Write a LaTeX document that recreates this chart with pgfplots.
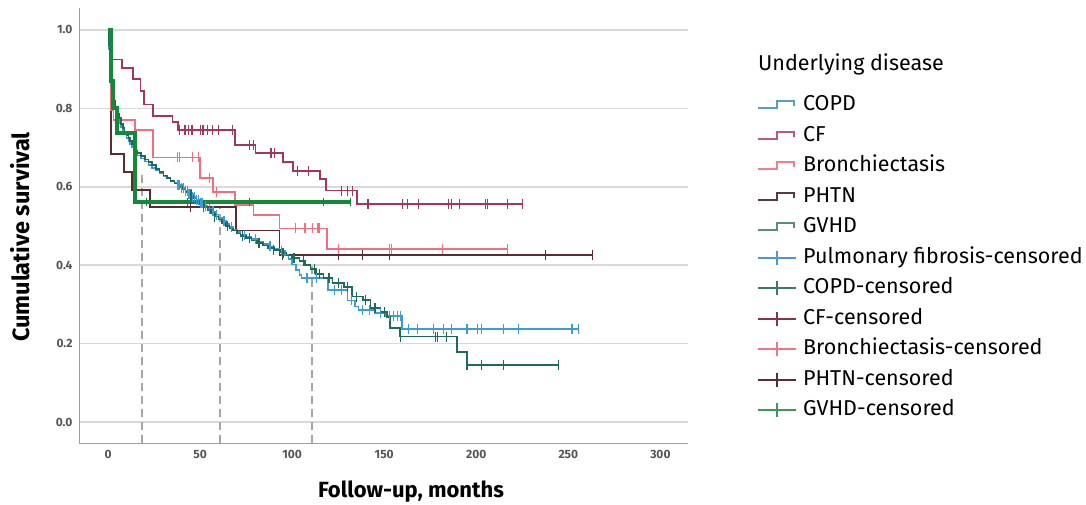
\documentclass[border=0pt]{standalone}
\usepackage{fontspec}
\setmainfont{Fira Sans}
\usepackage{pgfplots}
\pgfplotsset{compat=1.18}
\definecolor{cblue}{HTML}{3D9BD6}
\definecolor{cteal}{HTML}{1D6B5C}
\definecolor{ccf}{HTML}{A3365F}
\definecolor{cpink}{HTML}{F26D7D}
\definecolor{cbrown}{HTML}{5C2A31}
\definecolor{cgreen}{HTML}{128A3A}
\definecolor{lblue}{HTML}{5B9BC8}
\definecolor{lcf}{HTML}{B85A7A}
\definecolor{lpink}{HTML}{F08090}
\definecolor{lbrown}{HTML}{5A3A3C}
\definecolor{lgvhd}{HTML}{5A9070}
\definecolor{lpf}{HTML}{4A9AD0}
\definecolor{lcopd}{HTML}{3A7A6A}
\definecolor{lcfc}{HTML}{8A3050}
\definecolor{lbrc}{HTML}{F07585}
\definecolor{lphc}{HTML}{5A2A35}
\definecolor{lgvc}{HTML}{3A9A5A}
\definecolor{ticktext}{HTML}{555555}
\begin{document}
\begin{tikzpicture}[x=1pt,y=1pt]
\useasboundingbox (0,0) rectangle (1086,504);
\begin{axis}[
  at={(79pt,61pt)}, anchor=south west,
  scale only axis, width=609pt, height=435pt,
  xmin=-15.8, xmax=315, ymin=-0.0536, ymax=1.056,
  axis x line*=bottom, axis y line*=left,
  axis line style={draw=gray!75, line width=1pt, -},
  major tick length=0pt,
  xtick={0,50,100,150,200,250,300},
  ytick={0,0.2,0.4,0.6,0.8,1.0},
  yticklabel style={/pgf/number format/fixed, /pgf/number format/fixed zerofill, /pgf/number format/precision=1, xshift=-3pt},
  /pgf/number format/assume math mode=true,
  ticklabel style={font=\fontsize{12}{14}\selectfont\bfseries, text=ticktext},
  xticklabel style={yshift=-4pt},
  ymajorgrids, grid style={draw=gray!30, line width=1.5pt},
  legend style={at={(rel axis cs:1.1133,0.799)}, anchor=north west, draw=none, fill=none,
    inner sep=0pt, row sep=11.5pt,
    nodes={inner sep=0pt, text height=15pt, text depth=4pt, anchor=west},
    font=\fontsize{21.5}{25}\selectfont},
  legend cell align=left,
]
% dashed reference lines
\addplot[forget plot, draw=gray!70, line width=1.6pt, dash pattern=on 8pt off 5pt] coordinates {(18.5,-0.0536)(18.5,0.638)};
\addplot[forget plot, draw=gray!70, line width=1.6pt, dash pattern=on 8pt off 5pt] coordinates {(60.9,-0.0536)(60.9,0.546)};
\addplot[forget plot, draw=gray!70, line width=1.6pt, dash pattern=on 8pt off 5pt] coordinates {(110.6,-0.0536)(110.6,0.40)};

% PHTN
\addplot[forget plot, const plot, draw=cbrown, line width=1.6pt] coordinates {
(0,1)(1.6,0.683)(8.7,0.637)(13,0.592)(22.8,0.548)(69.5,0.488)(93,0.426)(263,0.426)};
\addplot[forget plot, only marks, mark=|, mark size=5pt, draw=cbrown, mark options={line width=1.2pt}] coordinates {
(44.6,0.548)(94.6,0.426)(125,0.426)(138,0.426)(153,0.426)(237.5,0.426)(263,0.426)};

% Bronchiectasis
\addplot[forget plot, const plot, draw=cpink, line width=1.6pt] coordinates {
(0,1)(1.6,0.796)(2.9,0.77)(14.7,0.745)(24.5,0.675)(50,0.622)(57,0.587)(69,0.553)(79,0.528)(93,0.494)(119,0.441)(217,0.441)};
\addplot[forget plot, only marks, mark=|, mark size=5pt, draw=cpink, mark options={line width=1.2pt}] coordinates {
(37.5,0.675)(39,0.675)(46,0.675)(49,0.675)(55,0.622)(58.7,0.587)(101.6,0.494)(107,0.494)(111,0.494)(114,0.494)(115,0.494)
(125,0.441)(153,0.441)(154,0.441)(181.5,0.441)(217,0.441)};

% CF
\addplot[forget plot, const plot, draw=ccf, line width=1.6pt] coordinates {
(0,1)(1.5,0.925)(7.5,0.903)(13.5,0.875)(17.5,0.845)(19.5,0.81)(24.5,0.78)(35,0.765)(38,0.745)(69,0.706)(80,0.686)(95,0.663)(100.5,0.64)(115,0.62)(118.5,0.59)(135.3,0.556)(225,0.556)};
\addplot[forget plot, only marks, mark=|, mark size=5pt, draw=ccf, mark options={line width=1.2pt}] coordinates {
(39,0.745)(41.8,0.745)(43.5,0.745)(45.6,0.745)(50,0.745)(51.6,0.745)(53.8,0.745)(56.5,0.745)(59.8,0.745)(67.4,0.745)
(77,0.706)(78.8,0.706)(88.5,0.686)(90.5,0.686)(103,0.64)(108.7,0.64)(127,0.59)(130,0.59)(132.6,0.59)
(140.8,0.556)(141.6,0.556)(160,0.556)(162.5,0.556)(168.5,0.556)(185,0.556)(186.4,0.556)(191,0.556)(205,0.556)(206,0.556)(216.8,0.556)(225,0.556)};

% Pulmonary fibrosis (blue)
\addplot[forget plot, const plot, draw=cblue, line width=1.6pt] coordinates {
(0,1)(0.5,0.95)(1,0.9)(1.5,0.86)(2,0.83)(3,0.81)(4,0.79)(5,0.775)(6,0.763)(7,0.752)(8,0.742)(9,0.733)(10,0.725)(11,0.716)(12,0.708)(13,0.7)(14,0.692)(15,0.686)(16,0.68)(18,0.672)(20,0.664)(22,0.656)(24,0.648)(26,0.641)(28,0.634)(30,0.628)(32,0.622)(34,0.616)(36,0.61)(38,0.604)(40,0.597)(42,0.59)(44,0.582)(46,0.574)(48,0.566)(50,0.558)(52,0.551)(54,0.544)(56,0.537)(58,0.529)(60,0.521)(62,0.513)(64,0.505)(66,0.497)(68,0.49)(70,0.484)(72,0.478)(75,0.472)(78,0.466)(81,0.46)(84,0.454)(87,0.448)(90,0.442)(93,0.436)(96,0.426)(98,0.415)(100,0.402)(102,0.388)(104,0.375)(105,0.367)(119.5,0.337)(130,0.31)(134,0.295)(136,0.286)(145,0.278)(151,0.27)(159.6,0.237)(255.4,0.237)};
\addplot[forget plot, only marks, mark=|, mark size=5pt, draw=cblue, mark options={line width=1.2pt}] coordinates {
(38,0.604)(39,0.604)(40,0.597)(41,0.597)(42,0.59)(43,0.59)(44,0.582)(45,0.582)(46,0.574)(47,0.574)(48,0.566)(49,0.566)(50,0.558)(51,0.558)(53,0.551)(55,0.544)(57,0.537)(59,0.529)(63,0.513)(67,0.497)(74,0.478)(80,0.466)(88,0.448)(94,0.436)(108,0.367)(113,0.367)(123,0.337)(127,0.337)(132,0.31)(138,0.286)(142,0.286)(148,0.278)(153,0.27)(155,0.27)(157,0.27)(159,0.27)
(163,0.237)(168,0.237)(176.6,0.237)(182,0.237)(186.4,0.237)(195,0.237)(200.5,0.237)(203,0.237)(214.7,0.237)(222.8,0.237)(252,0.237)(255.4,0.237)};

% COPD (teal)
\addplot[forget plot, const plot, draw=cteal, line width=1.6pt] coordinates {
(0,1)(0.5,0.96)(1,0.92)(1.5,0.88)(2,0.85)(3,0.82)(4,0.80)(5,0.785)(6,0.775)(7,0.76)(8,0.75)(9,0.74)(10,0.732)(11,0.724)(12,0.716)(13,0.708)(14,0.7)(15,0.692)(16,0.686)(18,0.678)(20,0.67)(22,0.663)(24,0.655)(26,0.646)(28,0.637)(30,0.629)(32,0.622)(34,0.615)(36,0.608)(38,0.6)(40,0.593)(42,0.586)(44,0.578)(46,0.57)(48,0.562)(50,0.555)(52,0.548)(54,0.54)(56,0.532)(58,0.524)(60,0.516)(62,0.508)(64,0.5)(66,0.494)(68,0.488)(70,0.481)(72,0.475)(75,0.469)(78,0.463)(81,0.457)(84,0.45)(87,0.444)(90,0.438)(93.5,0.432)(97,0.425)(100,0.418)(104,0.41)(107,0.4)(110,0.39)(113,0.378)(117,0.367)(122,0.354)(128,0.345)(132.5,0.32)(138.5,0.311)(142.5,0.29)(148,0.281)(151.5,0.268)(153,0.24)(158.7,0.218)(189.6,0.178)(195,0.145)(244.6,0.145)};
\addplot[forget plot, only marks, mark=|, mark size=5pt, draw=cteal, mark options={line width=1.2pt}] coordinates {
(45,0.578)(52,0.548)(58,0.524)(65,0.5)(73,0.475)(77,0.469)(82,0.457)(90,0.438)(95,0.432)(101,0.418)(106,0.41)(112,0.39)(115,0.378)(120,0.367)(125,0.354)(130,0.345)(135,0.32)(140,0.311)(145,0.29)(150,0.281)
(158.7,0.218)(177.7,0.218)(178.8,0.218)(183.7,0.218)(195,0.145)(202.7,0.145)(214.7,0.145)(244.6,0.145)};

% GVHD (thick green)
\addplot[forget plot, const plot, draw=cgreen, line width=3.8pt] coordinates {
(0,1)(1.6,0.87)(2.7,0.80)(4.9,0.737)(14.7,0.561)(131.5,0.561)};
\addplot[forget plot, only marks, mark=|, mark size=4pt, draw=cgreen, mark options={line width=1.2pt}] coordinates {
(21,0.561)(43,0.561)(77,0.561)(117,0.561)(131.5,0.561)};

% legend entries
\pgfplotsset{
  stepleg/.style={legend image code/.code={
    \draw[line width=1.8pt,##1] (0pt,-3pt) -- (19pt,-3pt) -- (19pt,4pt) -- (36pt,4pt) -- (36pt,-1pt);
    \path[draw=none,fill=none] (0pt,-7pt) rectangle (45pt,7pt);}},
  censleg/.style={legend image code/.code={
    \draw[line width=1.8pt,##1] (0pt,0pt) -- (38pt,0pt);
    \draw[line width=1.8pt,##1] (19pt,-7pt) -- (19pt,7pt);
    \path[draw=none,fill=none] (0pt,-7pt) rectangle (45pt,7pt);}},
}
\addlegendimage{stepleg, draw=lblue}\addlegendentry{COPD}
\addlegendimage{stepleg, draw=lcf}\addlegendentry{CF}
\addlegendimage{stepleg, draw=lpink}\addlegendentry{Bronchiectasis}
\addlegendimage{stepleg, draw=lbrown}\addlegendentry{PHTN}
\addlegendimage{stepleg, draw=lgvhd}\addlegendentry{GVHD}
\addlegendimage{censleg, draw=lpf}\addlegendentry{Pulmonary fibrosis-censored}
\addlegendimage{censleg, draw=lcopd}\addlegendentry{COPD-censored}
\addlegendimage{censleg, draw=lcfc}\addlegendentry{CF-censored}
\addlegendimage{censleg, draw=lbrc}\addlegendentry{Bronchiectasis-censored}
\addlegendimage{censleg, draw=lphc}\addlegendentry{PHTN-censored}
\addlegendimage{censleg, draw=lgvc}\addlegendentry{GVHD-censored}
\end{axis}
\node[anchor=west, inner sep=0pt, font=\fontsize{21.5}{25}\selectfont] at (758,440) {Underlying disease};
\node[rotate=90, inner sep=0pt, font=\fontsize{23.5}{27}\selectfont\bfseries] at (20,267) {Cumulative survival};
\node[inner sep=0pt, font=\fontsize{22}{26}\selectfont\bfseries] at (411,12) {Follow-up, months};
\end{tikzpicture}
\end{document}
